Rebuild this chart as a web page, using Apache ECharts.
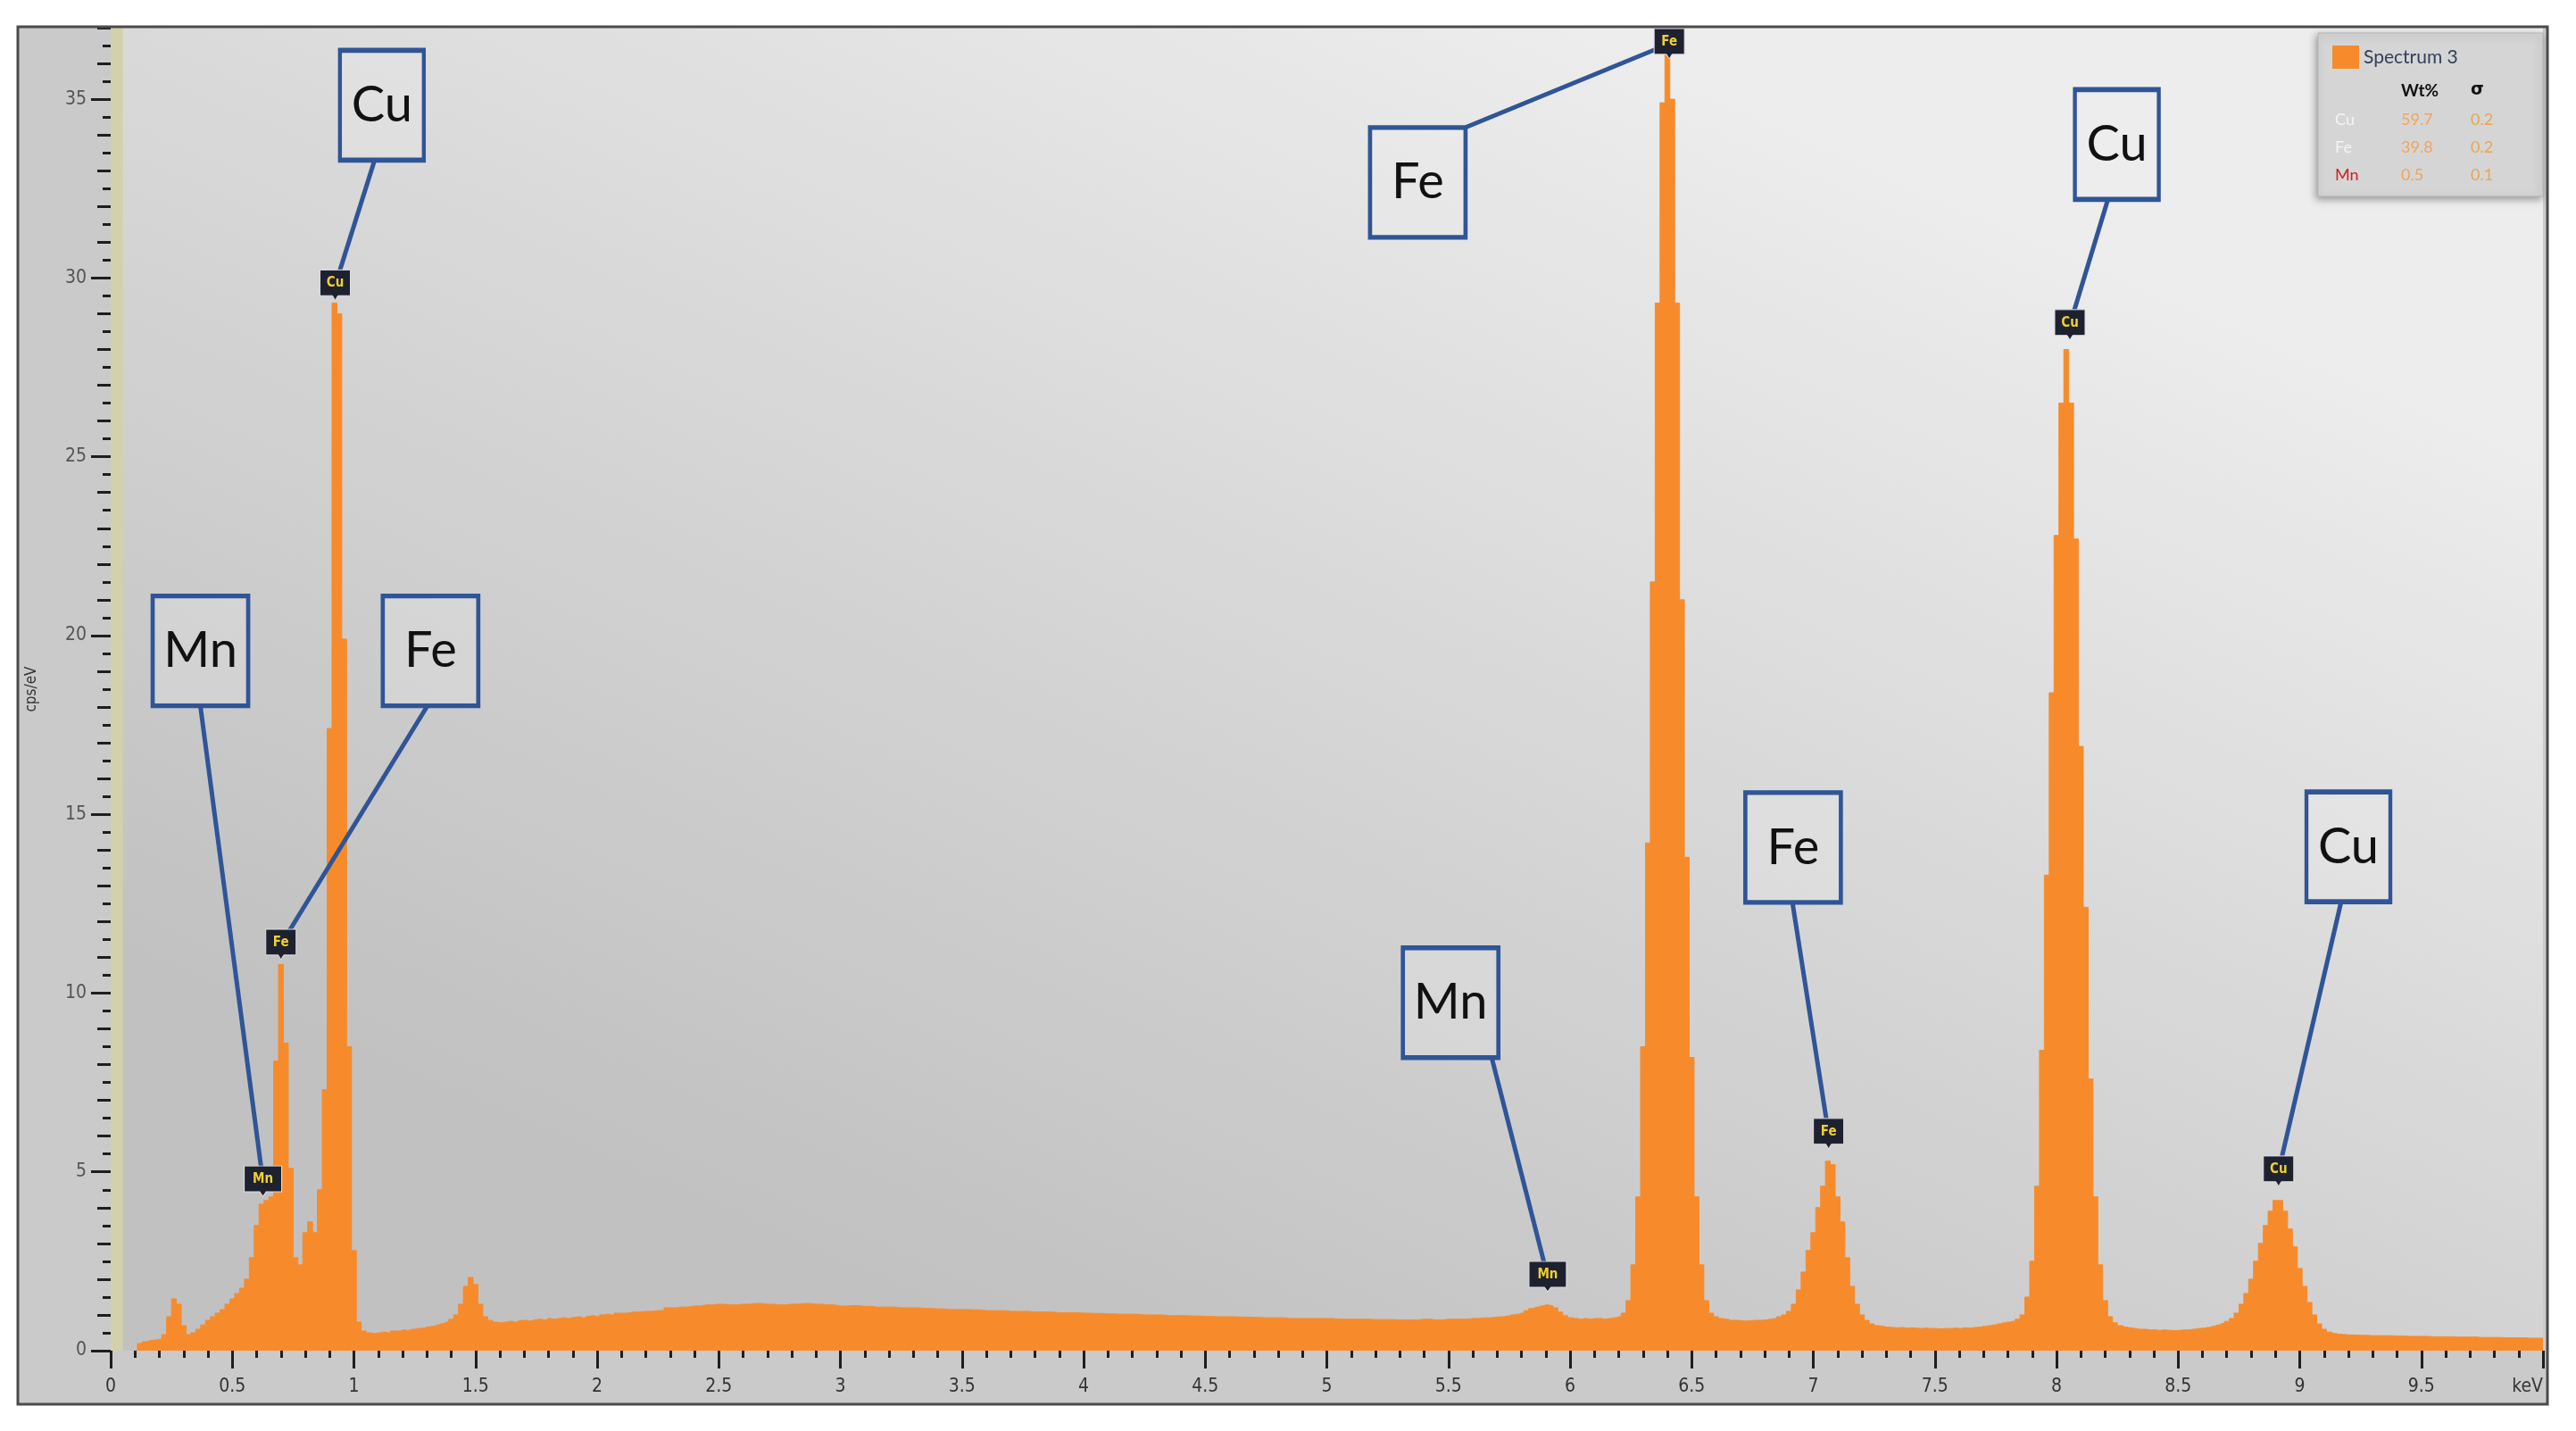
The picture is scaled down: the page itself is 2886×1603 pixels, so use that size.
<!DOCTYPE html>
<html><head><meta charset="utf-8">
<script src="https://cdn.jsdelivr.net/npm/echarts@6/dist/echarts.min.js"></script>
<style>html,body{margin:0;padding:0;background:#fff}#c{width:2886px;height:1603px}</style>
</head><body><div id="c"></div>
<script>
// ---- spectrum channels (keV) ----
const energy = [
0.10,0.12,0.14,0.16,0.18,0.20,0.22,0.24,0.26,0.28,0.30,0.32,0.34,0.36,0.38,0.40,0.42,0.44,0.46,0.48,
0.50,0.52,0.54,0.56,0.58,0.60,0.62,0.64,0.66,0.68,0.70,0.72,0.74,0.76,0.78,0.80,0.82,0.84,0.86,0.88,
0.90,0.92,0.94,0.96,0.98,1.00,1.02,1.04,1.06,1.08,1.10,1.12,1.14,1.16,1.18,1.20,1.22,1.24,1.26,1.28,
1.30,1.32,1.34,1.36,1.38,1.40,1.42,1.44,1.46,1.48,1.50,1.52,1.54,1.56,1.58,1.60,1.62,1.64,1.66,1.68,
1.70,1.72,1.74,1.76,1.78,1.80,1.82,1.84,1.86,1.88,1.90,1.92,1.94,1.96,1.98,2.00,2.02,2.04,2.06,2.08,2.10,
2.15,2.20,2.25,2.30,2.35,2.40,2.45,2.50,2.55,2.60,2.65,2.70,2.75,2.80,2.85,2.90,2.95,3.00,3.05,3.10,
3.15,3.20,3.25,3.30,3.35,3.40,3.45,3.50,3.55,3.60,3.65,3.70,3.75,3.80,3.85,3.90,3.95,4.00,4.05,4.10,
4.15,4.20,4.25,4.30,4.35,4.40,4.45,4.50,4.55,4.60,4.65,4.70,4.75,4.80,4.85,4.90,4.95,5.00,5.05,5.10,
5.15,5.20,5.25,5.30,5.35,5.40,5.45,5.50,5.55,5.60,5.65,5.70,
5.72,5.74,5.76,5.78,5.80,5.82,5.84,5.86,5.88,5.90,5.92,5.94,5.96,5.98,6.00,6.02,6.04,6.06,6.08,6.10,
6.12,6.14,6.16,6.18,6.20,6.22,6.24,6.26,6.28,6.30,6.32,6.34,6.36,6.38,6.40,6.42,6.44,6.46,6.48,6.50,
6.52,6.54,6.56,6.58,6.60,6.62,6.64,6.66,6.68,6.70,6.72,6.74,6.76,6.78,6.80,6.82,6.84,6.86,6.88,6.90,
6.92,6.94,6.96,6.98,7.00,7.02,7.04,7.06,7.08,7.10,7.12,7.14,7.16,7.18,7.20,7.22,7.24,7.26,7.28,7.30,
7.32,7.34,7.36,7.38,7.40,7.42,7.44,7.46,7.48,7.50,7.52,7.54,7.56,7.58,7.60,7.62,7.64,7.66,7.68,7.70,
7.72,7.74,7.76,7.78,7.80,7.82,7.84,7.86,7.88,7.90,7.92,7.94,7.96,7.98,8.00,8.02,8.04,8.06,8.08,8.10,
8.12,8.14,8.16,8.18,8.20,8.22,8.24,8.26,8.28,8.30,8.32,8.34,8.36,8.38,8.40,8.42,8.44,8.46,8.48,8.50,
8.52,8.54,8.56,8.58,8.60,8.62,8.64,8.66,8.68,8.70,8.72,8.74,8.76,8.78,8.80,8.82,8.84,8.86,8.88,8.90,
8.92,8.94,8.96,8.98,9.00,9.02,9.04,9.06,9.08,9.10,9.12,9.14,9.16,9.18,9.20,
9.25,9.30,9.35,9.40,9.45,9.50,9.55,9.60,9.65,9.70,9.75,9.80,9.85,9.90,9.95,10.00
];
// ---- counts (cps/eV) ----
const counts = [
0,0.2,0.25,0.28,0.3,0.32,0.45,0.95,1.45,1.3,0.7,0.45,0.5,0.6,0.72,0.85,0.95,1.05,1.15,1.3,
1.45,1.6,1.75,2.0,2.6,3.5,4.1,4.2,4.3,8.1,10.8,8.6,5.1,2.6,2.4,3.3,3.6,3.3,4.5,7.3,
17.4,29.3,29.0,19.9,8.5,2.8,0.8,0.55,0.5,0.48,0.5,0.52,0.5,0.55,0.55,0.58,0.57,0.6,0.62,0.63,
0.66,0.68,0.72,0.76,0.8,0.88,1.0,1.3,1.8,2.05,1.85,1.3,0.95,0.85,0.8,0.78,0.8,0.82,0.8,0.84,
0.85,0.83,0.86,0.88,0.86,0.9,0.88,0.9,0.92,0.9,0.93,0.95,0.92,0.96,0.98,0.95,1.0,1.02,1.0,1.05,1.05,
1.08,1.1,1.12,1.2,1.22,1.25,1.28,1.3,1.28,1.3,1.32,1.3,1.28,1.3,1.32,1.3,1.28,1.25,1.26,1.24,
1.22,1.22,1.2,1.2,1.18,1.17,1.15,1.15,1.14,1.12,1.12,1.1,1.1,1.08,1.08,1.06,1.06,1.05,1.04,1.03,
1.02,1.02,1.0,1.0,0.98,0.98,0.97,0.96,0.95,0.95,0.94,0.93,0.92,0.92,0.9,0.9,0.9,0.9,0.88,0.88,
0.88,0.87,0.87,0.86,0.86,0.88,0.86,0.88,0.88,0.9,0.92,0.94,
0.95,0.97,1.0,1.02,1.05,1.12,1.18,1.22,1.25,1.28,1.26,1.2,1.08,0.98,0.92,0.9,0.88,0.9,0.88,0.9,
0.9,0.88,0.9,0.92,0.95,1.05,1.4,2.4,4.3,8.5,14.2,21.5,29.3,34.9,36.3,35.0,29.3,21.0,13.8,8.2,
4.3,2.4,1.4,1.05,0.95,0.9,0.88,0.85,0.85,0.84,0.83,0.84,0.85,0.85,0.86,0.88,0.9,0.95,1.0,1.1,
1.3,1.7,2.2,2.8,3.3,4.0,4.6,5.3,5.2,4.3,3.6,2.6,1.8,1.3,1.0,0.85,0.75,0.7,0.68,0.66,
0.65,0.64,0.65,0.63,0.64,0.63,0.62,0.63,0.62,0.62,0.61,0.62,0.62,0.63,0.62,0.64,0.63,0.65,0.66,0.68,
0.7,0.72,0.75,0.78,0.8,0.82,0.88,1.0,1.5,2.5,4.6,8.4,13.3,18.4,22.8,26.5,28.0,26.5,22.7,16.9,
12.4,7.6,4.3,2.4,1.4,0.95,0.78,0.7,0.66,0.64,0.62,0.6,0.6,0.58,0.58,0.57,0.58,0.57,0.56,0.57,
0.58,0.58,0.6,0.62,0.63,0.65,0.68,0.72,0.76,0.82,0.9,1.05,1.3,1.6,2.0,2.5,3.0,3.5,3.9,4.2,
4.2,3.9,3.4,2.9,2.3,1.8,1.35,1.0,0.75,0.6,0.52,0.48,0.46,0.45,0.44,
0.43,0.42,0.42,0.41,0.4,0.4,0.39,0.39,0.38,0.38,0.37,0.37,0.36,0.36,0.35,0.35
];
const seriesName = 'Spectrum 3';
const xUnit = 'keV';
const yName = 'cps/eV';
// ---- peak identification annotations (data coordinates) ----
const peakElement = ['Cu','Mn','Fe','Fe','Cu','Mn','Fe','Cu'];
const peakMarkerAt = [[0.923,29.8],[0.626,4.74],[0.70,11.36],[6.408,36.55],[8.055,28.69],[5.908,2.07],[7.063,6.07],[8.913,5.02]];
const labelBoxAt = [[1.115,34.83],[0.369,19.57],[1.315,19.57],[5.374,32.67],[8.248,33.73],[5.509,9.73],[6.917,14.07],[9.20,14.09]];
const leaderFrom = [[1.085,33.29],[0.369,18.02],[1.301,18.02],[5.570,34.21],[8.211,32.19],[5.678,8.19],[6.914,12.55],[9.17,12.55]];
// ---- quantification table ----
const quantElements = ['Cu','Fe','Mn'];
const quantWt = ['59.7','39.8','0.5'];
const quantSigma = ['0.2','0.2','0.1'];

const ORANGE = '#f78b2c';
const BLUE = '#2f5597';
const narrow = '"Liberation Sans Narrow","DejaVu Sans Condensed",sans-serif';

const chart = echarts.init(document.getElementById('c'), null, {renderer:'canvas'});

const elColor = ['#f4f4f4','#f4f4f4','#d42020'];
const tableGraphics = [];
tableGraphics.push({type:'text', left:2690, top:92, z:60, style:{text:'Wt%', font:'bold 19px Lato', fill:'#111'}});
tableGraphics.push({type:'text', left:2768, top:92, z:60, style:{text:'σ', font:'bold 19px "DejaVu Sans"', fill:'#111'}});
quantElements.forEach((el,i)=>{
  const y = 125 + i*31;
  tableGraphics.push({type:'text', left:2616, top:y, z:60, style:{text:el, font:'18px Lato', fill:elColor[i]}});
  tableGraphics.push({type:'text', left:2690, top:y, z:60, style:{text:quantWt[i], font:'18px Lato', fill:'#f5a35c'}});
  tableGraphics.push({type:'text', left:2768, top:y, z:60, style:{text:quantSigma[i], font:'18px Lato', fill:'#eaa650'}});
});

const option = {
  animation:false,
  backgroundColor:'#ffffff',
  textStyle:{fontFamily:narrow},
  grid:{left:124, right:37, top:31, bottom:90, show:true, borderWidth:0,
    backgroundColor:new echarts.graphic.LinearGradient(0.62,0,0.38,1,[
      {offset:0,color:'#ededed'},{offset:0.5,color:'#d6d6d6'},{offset:1,color:'#c1c1c1'}])},
  legend:{data:[seriesName], left:2608, top:46, icon:'rect', itemWidth:30, itemHeight:26, itemGap:10, z:55,
    textStyle:{fontSize:21, color:'#33405a', fontFamily:'Lato'}},
  xAxis:{type:'value', min:0, max:10, interval:0.5,
    axisLine:{show:false}, splitLine:{show:false},
    axisTick:{show:true, length:20, lineStyle:{color:'#1e1e1e', width:3}},
    minorTick:{show:true, splitNumber:5, length:8, lineStyle:{color:'#1e1e1e', width:3}},
    axisLabel:{margin:30, fontSize:21, color:'#333', fontFamily:narrow, alignMaxLabel:'right',
      formatter:v=> v===10 ? xUnit : String(v)}},
  yAxis:[
    {type:'value', min:0, max:37, interval:5, position:'left', offset:0,
      name:yName, nameLocation:'middle', nameGap:80, nameRotate:90,
      nameTextStyle:{fontSize:17, color:'#333', fontFamily:narrow},
      axisLine:{show:false}, splitLine:{show:false},
      axisTick:{show:true, length:22, lineStyle:{color:'#1e1e1e', width:3}},
      axisLabel:{margin:27, fontSize:21, color:'#555', fontFamily:narrow, showMaxLabel:false}},
    {type:'value', min:0, max:37, interval:1, position:'left', offset:0,
      axisLine:{show:false}, splitLine:{show:false}, axisLabel:{show:false},
      axisTick:{show:true, length:15, lineStyle:{color:'#1e1e1e', width:3}}},
    {type:'value', min:0, max:37, interval:0.5, position:'left', offset:0,
      axisLine:{show:false}, splitLine:{show:false}, axisLabel:{show:false},
      axisTick:{show:true, length:9, lineStyle:{color:'#1e1e1e', width:3}}}
  ],
  series:[
    {type:'line', name:seriesName, data:energy.map((e,i)=>[e,counts[i]]), step:'middle',
      symbol:'none', z:2, lineStyle:{color:ORANGE, width:1}, itemStyle:{color:ORANGE},
      areaStyle:{color:ORANGE, opacity:1},
      markArea:{silent:true, itemStyle:{color:'#d3d0ac'}, data:[[{xAxis:0},{xAxis:0.05}]]}},
    {type:'scatter', name:'markers', data:[], z:3, silent:true,
      markPoint:{silent:true, symbol:'path://M0,0H34V28H20L17,33L14,28H0Z', symbolKeepAspect:false,
        itemStyle:{color:'#1d2130', borderColor:'#e0e0e0', borderWidth:1},
        label:{show:true, position:'inside', offset:[0,-2], formatter:'{b}', color:'#f0d030', fontSize:15, fontWeight:'bold', fontFamily:narrow},
        data:peakElement.map((el,i)=>({name:el, coord:peakMarkerAt[i], symbolSize: el==='Mn'?[42,34]:[34,34]}))}},
    {type:'scatter', name:'leaders', data:[], z:4, silent:true,
      markLine:{silent:true, symbol:['none','none'], label:{show:false},
        lineStyle:{color:BLUE, width:5, type:'solid', opacity:1},
        data:peakElement.map((el,i)=>[{coord:leaderFrom[i]},{coord:peakMarkerAt[i]}])}},
    {type:'scatter', name:'boxes', data:[], z:5, silent:true,
      markPoint:{silent:true, symbol:'rect',
        itemStyle:{color:'rgba(240,240,240,0.25)', borderColor:BLUE, borderWidth:5},
        label:{show:true, position:'inside', formatter:'{b}', color:'#111', fontSize:56, fontFamily:'Lato'},
        data:peakElement.map((el,i)=>({name:el, coord:labelBoxAt[i], symbolSize: el==='Cu'?[94,123]:[107,123]}))}}
  ],
  graphic:[
    {type:'rect', z:-10, shape:{x:20,y:30,width:2834,height:1543}, style:{fill:'#cacaca'}},
    {type:'rect', z:50, shape:{x:2597,y:37,width:252,height:183},
      style:{fill:'#d5d5d5', stroke:'#b4b4b4', lineWidth:1, shadowBlur:8, shadowColor:'rgba(0,0,0,0.35)', shadowOffsetX:-2, shadowOffsetY:3}},
    ...tableGraphics,
    {type:'rect', z:100, shape:{x:20,y:30,width:2834,height:1543}, style:{fill:'none', stroke:'#4a4a4a', lineWidth:3}}
  ]
};
chart.setOption(option);
</script></body></html>
